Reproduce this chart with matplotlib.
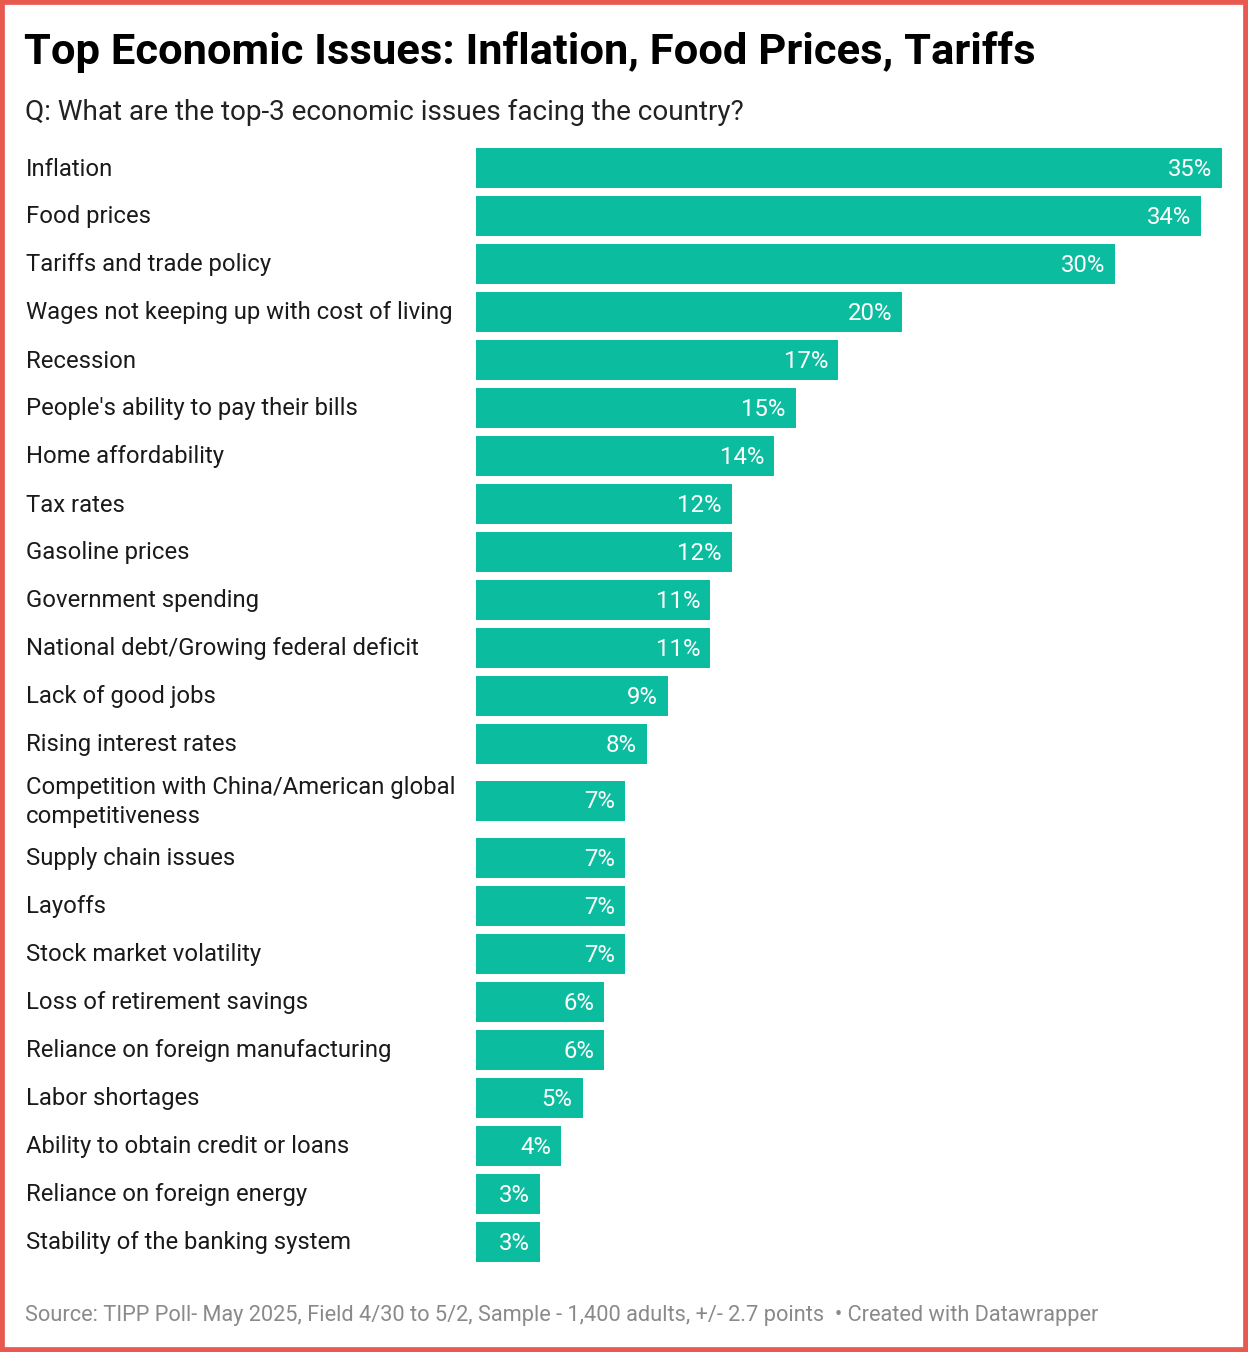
import matplotlib.pyplot as plt
from matplotlib.transforms import blended_transform_factory
from matplotlib.patches import Rectangle

plt.rcParams['font.family'] = ['Roboto', 'DejaVu Sans']

issues = ["Inflation", "Food prices", "Tariffs and trade policy",
          "Wages not keeping up with cost of living", "Recession",
          "People's ability to pay their bills", "Home affordability",
          "Tax rates", "Gasoline prices", "Government spending",
          "National debt/Growing federal deficit", "Lack of good jobs",
          "Rising interest rates",
          "Competition with China/American global\ncompetitiveness",
          "Supply chain issues", "Layoffs", "Stock market volatility",
          "Loss of retirement savings", "Reliance on foreign manufacturing",
          "Labor shortages", "Ability to obtain credit or loans",
          "Reliance on foreign energy", "Stability of the banking system"]
shares = [35, 34, 30, 20, 17, 15, 14, 12, 12, 11, 11, 9, 8, 7, 7, 7, 7,
          6, 6, 5, 4, 3, 3]

W, H = 1248, 1352
fig = plt.figure(figsize=(W / 100, H / 100), dpi=100)

# row centres in pixels, two-line labels get extra room
pitch, extra = 48, 9
ys = []
y = 168
prev_n = 0
for i, lab in enumerate(issues):
    n = lab.count("\n")
    if i > 0:
        y += pitch + n * extra + prev_n * extra
    ys.append(y)
    prev_n = n

top, bot = 148, 1262
ax = fig.add_axes([476 / W, 1 - bot / H, (1222 - 476) / W, (bot - top) / H])
ax.set_xlim(0, 35)
ax.set_ylim(bot, top)
ax.axis('off')

teal = '#0bbc9f'
ax.barh(ys, shares, height=40, color=teal)

for yy, v in zip(ys, shares):
    ax.annotate(f"{v}%", (v, yy), xytext=(-10, -1), textcoords='offset pixels',
                ha='right', va='center', color='white', fontsize=17.2)

tr = blended_transform_factory(fig.transFigure, ax.transData)
for yy, lab in zip(ys, issues):
    ax.text(26 / W, yy + 1, lab, transform=tr, ha='left', va='center',
            fontsize=17.2, color='#1a1a1a', linespacing=1.3)

fig.text(24 / W, 1 - 52 / H, "Top Economic Issues: Inflation, Food Prices, Tariffs",
         fontsize=31.3, fontweight='bold', color='black', va='center')
fig.text(25 / W, 1 - 112 / H, "Q: What are the top-3 economic issues facing the country?",
         fontsize=20.1, color='#222222', va='center')
fig.text(25 / W, 1 - 1316 / H,
         "Source: TIPP Poll- May 2025, Field 4/30 to 5/2, Sample - 1,400 adults, +/- 2.7 points  \u2022 Created with Datawrapper",
         fontsize=15.7, color='#8a8a8a', va='center')

fig.patches.append(Rectangle((0, 0), 1, 1, transform=fig.transFigure,
                             fill=False, edgecolor='#e8594f', linewidth=7))

fig.savefig("out.png", dpi=100)
